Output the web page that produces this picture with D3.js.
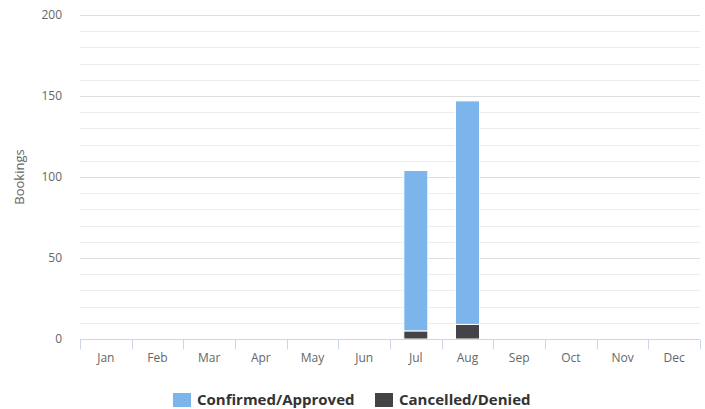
<!DOCTYPE html>
<html lang="en">
<head>
  <meta charset="UTF-8">
  <title>Bookings by Month</title>
  <script src="https://d3js.org/d3.v7.min.js"></script>
  <style>
    body { margin: 0; background: #fff; }
    text { font-family: "Open Sans", "DejaVu Sans", sans-serif; }
    .tick-label { font-size: 12px; fill: #666; }
    .legend-label { font-size: 15px; font-weight: bold; fill: #333; }
  </style>
</head>
<body>
  <script>
    const width = 705, height = 409;

    // Chart data
    const months = ["Jan", "Feb", "Mar", "Apr", "May", "Jun", "Jul", "Aug", "Sep", "Oct", "Nov", "Dec"];
    const confirmed = [0, 0, 0, 0, 0, 0, 99, 138, 0, 0, 0, 0];
    const cancelled = [0, 0, 0, 0, 0, 0, 5, 9, 0, 0, 0, 0];
    const seriesNames = ["Confirmed/Approved", "Cancelled/Denied"];
    const seriesColors = ["#7cb5ec", "#434348"];
    const yTicks = [0, 50, 100, 150, 200];

    const margin = { top: 15, right: 5, bottom: 70, left: 80 };

    const svg = d3.select("body").append("svg")
      .attr("width", width)
      .attr("height", height);

    const x = d3.scaleBand()
      .domain(months)
      .range([margin.left, width - margin.right])
      .paddingInner(0)
      .paddingOuter(0);

    const y = d3.scaleLinear()
      .domain([0, 200])
      .range([height - margin.bottom, margin.top]);

    // Minor grid lines every 10
    svg.append("g")
      .selectAll("line")
      .data(d3.range(0, 201, 10).filter(v => v % 50 !== 0))
      .enter().append("line")
      .attr("x1", margin.left)
      .attr("x2", width - margin.right)
      .attr("y1", d => Math.round(y(d)) + 0.5)
      .attr("y2", d => Math.round(y(d)) + 0.5)
      .attr("stroke", "#ececec");

    // Major grid lines
    svg.append("g")
      .selectAll("line")
      .data(yTicks.filter(v => v > 0))
      .enter().append("line")
      .attr("x1", margin.left)
      .attr("x2", width - margin.right)
      .attr("y1", d => Math.round(y(d)) + 0.5)
      .attr("y2", d => Math.round(y(d)) + 0.5)
      .attr("stroke", "#dedede");

    // Y labels
    svg.append("g")
      .selectAll("text")
      .data(yTicks)
      .enter().append("text")
      .attr("class", "tick-label")
      .attr("x", margin.left - 18)
      .attr("y", d => y(d) + 4)
      .attr("text-anchor", "end")
      .text(d => d);

    // Y axis title
    svg.append("text")
      .attr("class", "tick-label")
      .attr("transform", `translate(24, ${(margin.top + height - margin.bottom) / 2}) rotate(-90)`)
      .attr("text-anchor", "middle")
      .style("font-size", "13px")
      .text("Bookings");

    // Stacked bars
    const stackData = months.map((m, i) => ({ month: m, c: confirmed[i], d: cancelled[i] }));
    const stacked = d3.stack().keys(["d", "c"])(stackData);
    const colorByKey = { c: seriesColors[0], d: seriesColors[1] };
    const barWidth = 24;

    svg.append("g")
      .selectAll("g")
      .data(stacked)
      .enter().append("g")
      .attr("fill", d => colorByKey[d.key])
      .selectAll("rect")
      .data(d => d.filter(p => p[1] > p[0]))
      .enter().append("rect")
      .attr("x", d => x(d.data.month) + (x.bandwidth() - barWidth) / 2)
      .attr("y", d => y(d[1]))
      .attr("width", barWidth)
      .attr("height", d => y(d[0]) - y(d[1]))
      .attr("stroke", "#fff")
      .attr("stroke-width", 1);

    // X axis line and ticks
    const axisY = Math.round(y(0)) + 0.5;
    svg.append("line")
      .attr("x1", margin.left)
      .attr("x2", width - margin.right)
      .attr("y1", axisY)
      .attr("y2", axisY)
      .attr("stroke", "#ccd6eb");

    const tickPos = months.map(m => x(m)).concat([width - margin.right]);
    svg.append("g")
      .selectAll("line")
      .data(tickPos)
      .enter().append("line")
      .attr("x1", d => Math.round(d) + 0.5)
      .attr("x2", d => Math.round(d) + 0.5)
      .attr("y1", axisY)
      .attr("y2", axisY + 10)
      .attr("stroke", "#ccd6eb");

    svg.append("g")
      .selectAll("text")
      .data(months)
      .enter().append("text")
      .attr("class", "tick-label")
      .attr("x", d => x(d) + x.bandwidth() / 2)
      .attr("y", axisY + 22)
      .attr("text-anchor", "middle")
      .text(d => d);

    // Legend
    const legend = svg.append("g").attr("transform", "translate(173, 393)");
    const item1 = legend.append("g");
    item1.append("rect").attr("width", 18).attr("height", 14).attr("fill", seriesColors[0]);
    item1.append("text").attr("class", "legend-label").attr("x", 24).attr("y", 12).text(seriesNames[0]);
    const item2 = legend.append("g").attr("transform", "translate(202, 0)");
    item2.append("rect").attr("width", 18).attr("height", 14).attr("fill", seriesColors[1]);
    item2.append("text").attr("class", "legend-label").attr("x", 24).attr("y", 12).text(seriesNames[1]);
  </script>
</body>
</html>
